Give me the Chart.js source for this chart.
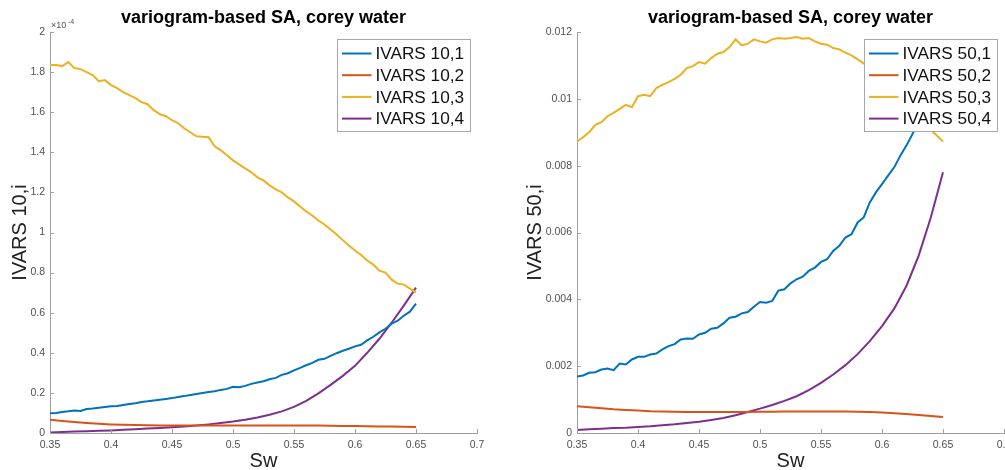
<!DOCTYPE html>
<html>
<head>
<meta charset="utf-8">
<script src="https://cdn.jsdelivr.net/npm/chart.js@4.4.0/dist/chart.umd.min.js"></script>
<style>
  html, body { margin: 0; padding: 0; background: #fff; overflow: hidden; width: 1005px; height: 470px; }
  .panel { position: absolute; top: 0; }
  #left { left: 0; }
  #right { left: 500px; }
</style>
</head>
<body>
<div class="panel" id="left"><canvas id="chart10" width="500" height="470"></canvas></div>
<div class="panel" id="right"><canvas id="chart50" width="530" height="470"></canvas></div>
<script>
// Sw values (fine grid for the noisy curves, coarse one for the smooth curves)
const swFine = [0.35, 0.355, 0.36, 0.365, 0.37, 0.375, 0.38, 0.385, 0.39, 0.395,
    0.4, 0.405, 0.41, 0.415, 0.42, 0.425, 0.43, 0.435, 0.44, 0.445,
    0.45, 0.455, 0.46, 0.465, 0.47, 0.475, 0.48, 0.485, 0.49, 0.495,
    0.5, 0.505, 0.51, 0.515, 0.52, 0.525, 0.53, 0.535, 0.54, 0.545,
    0.55, 0.555, 0.56, 0.565, 0.57, 0.575, 0.58, 0.585, 0.59, 0.595,
    0.6, 0.605, 0.61, 0.615, 0.62, 0.625, 0.63, 0.635, 0.64, 0.645, 0.65]
const swCoarse = [0.35, 0.36, 0.37, 0.38, 0.39, 0.4, 0.41, 0.42, 0.43, 0.44,
    0.45, 0.46, 0.47, 0.48, 0.49, 0.5, 0.51, 0.52, 0.53, 0.54,
    0.55, 0.56, 0.57, 0.58, 0.59, 0.6, 0.61, 0.62, 0.63, 0.64, 0.65]

// IVARS 10 (in units of 1e-4)
const ivars10_1 = [0.098, 0.100, 0.105, 0.108, 0.112, 0.110, 0.120, 0.122, 0.126, 0.130,
    0.133, 0.135, 0.140, 0.145, 0.148, 0.155, 0.158, 0.162, 0.166, 0.170,
    0.174, 0.180, 0.184, 0.190, 0.195, 0.200, 0.205, 0.208, 0.215, 0.220,
    0.230, 0.228, 0.235, 0.245, 0.252, 0.258, 0.268, 0.275, 0.290, 0.298,
    0.312, 0.325, 0.338, 0.350, 0.365, 0.370, 0.385, 0.398, 0.410, 0.420,
    0.432, 0.440, 0.462, 0.480, 0.502, 0.520, 0.545, 0.560, 0.585, 0.605, 0.645]
const ivars10_2 = [0.066, 0.060, 0.055, 0.050, 0.046, 0.043, 0.041, 0.040, 0.039, 0.038,
    0.038, 0.037, 0.037, 0.037, 0.037, 0.037, 0.037, 0.037, 0.037, 0.037,
    0.037, 0.037, 0.037, 0.036, 0.035, 0.035, 0.034, 0.033, 0.032, 0.031, 0.030]
const ivars10_3 = [1.835, 1.835, 1.830, 1.850, 1.820, 1.815, 1.800, 1.785, 1.755, 1.760,
    1.735, 1.720, 1.700, 1.685, 1.670, 1.650, 1.640, 1.610, 1.590, 1.580,
    1.560, 1.545, 1.520, 1.500, 1.480, 1.478, 1.475, 1.430, 1.410, 1.385,
    1.360, 1.340, 1.320, 1.300, 1.275, 1.260, 1.235, 1.215, 1.200, 1.175,
    1.155, 1.130, 1.105, 1.085, 1.060, 1.040, 1.015, 0.990, 0.962, 0.935,
    0.910, 0.888, 0.860, 0.840, 0.810, 0.800, 0.765, 0.745, 0.740, 0.720, 0.700]
const ivars10_4 = [0.003, 0.005, 0.007, 0.009, 0.011, 0.013, 0.016, 0.019, 0.022, 0.025,
    0.029, 0.033, 0.037, 0.043, 0.050, 0.057, 0.066, 0.077, 0.091, 0.108,
    0.130, 0.160, 0.198, 0.240, 0.285, 0.335, 0.400, 0.470, 0.550, 0.635, 0.725]

// IVARS 50
const ivars50_1 = [0.00169, 0.00172, 0.00180, 0.00182, 0.00190, 0.00193, 0.00188, 0.00208, 0.00205, 0.00220,
    0.00228, 0.00228, 0.00235, 0.00238, 0.00250, 0.00260, 0.00266, 0.00280, 0.00283, 0.00282,
    0.00295, 0.00300, 0.00312, 0.00315, 0.00328, 0.00345, 0.00348, 0.00358, 0.00362, 0.00378,
    0.00392, 0.00390, 0.00395, 0.00426, 0.00430, 0.00448, 0.00460, 0.00468, 0.00485, 0.00495,
    0.00512, 0.00520, 0.00545, 0.00560, 0.00585, 0.00595, 0.00630, 0.00645, 0.00690, 0.00720,
    0.00745, 0.00770, 0.00795, 0.00830, 0.00860, 0.00895, 0.00930, 0.00970, 0.01010, 0.01055, 0.01100]
const ivars50_2 = [0.00080, 0.00077, 0.00074, 0.00071, 0.00069, 0.00067, 0.00065, 0.00064, 0.000635, 0.00063,
    0.000625, 0.000625, 0.00063, 0.00063, 0.00063, 0.000635, 0.000635, 0.00064, 0.00064, 0.000645,
    0.000645, 0.000645, 0.00064, 0.000635, 0.000625, 0.00061, 0.00059, 0.000565, 0.00054, 0.00051, 0.00048]
const ivars50_3 = [0.00872, 0.00885, 0.00900, 0.00922, 0.00930, 0.00948, 0.00958, 0.00970, 0.00982, 0.00975,
    0.01008, 0.01012, 0.01008, 0.01032, 0.01042, 0.01050, 0.01060, 0.01072, 0.01092, 0.01098,
    0.01110, 0.01105, 0.01122, 0.01135, 0.01140, 0.01155, 0.01178, 0.01160, 0.01165, 0.01178,
    0.01172, 0.01168, 0.01178, 0.01182, 0.01180, 0.01182, 0.01185, 0.01180, 0.01182, 0.01172,
    0.01165, 0.01162, 0.01152, 0.01148, 0.01138, 0.01130, 0.01118, 0.01106, 0.01090, 0.01072,
    0.01055, 0.01038, 0.01020, 0.01002, 0.00985, 0.00966, 0.00948, 0.00925, 0.00907, 0.00890, 0.00872]
const ivars50_4 = [0.00009, 0.00011, 0.00013, 0.00015, 0.00016, 0.00018, 0.00020, 0.00023, 0.00026, 0.00030,
    0.00034, 0.00039, 0.00045, 0.00053, 0.00063, 0.00073, 0.00084, 0.00096, 0.00110, 0.00128,
    0.00150, 0.00175, 0.00203, 0.00236, 0.00275, 0.00320, 0.00372, 0.00440, 0.00530, 0.00645, 0.00780]

// tick labels
const xTicks = [0.35, 0.4, 0.45, 0.5, 0.55, 0.6, 0.65, 0.7]
const yTicks10 = [0, 0.2, 0.4, 0.6, 0.8, 1, 1.2, 1.4, 1.6, 1.8, 2]
const yTicks50 = [0, 0.002, 0.004, 0.006, 0.008, 0.01, 0.012]

const cores = ['#0072BD', '#D95319', '#EDB120', '#7E2F8E']
const fonte = '"Liberation Sans", Arial, Helvetica, sans-serif'
const corEixo = '#a0a0a0'
const corTexto = '#505050'

const pontos = (xs, ys) => xs.map((x, i) => ({ x: x, y: ys[i] }))

// legenda dentro do grafico, com fundo branco
const legendaCaixa = {
    id: 'legendaCaixa',
    afterDatasetsDraw(chart) {
        const { ctx, chartArea } = chart
        const w = 133, h = 92, linha = 21.7
        const x0 = Math.round(chartArea.right - 7 - w) + 0.5
        const y0 = Math.round(chartArea.top + 7) + 0.5
        ctx.save()
        ctx.fillStyle = '#fff'
        ctx.fillRect(x0, y0, w, h)
        ctx.strokeStyle = '#a8a8a8'
        ctx.lineWidth = 1
        ctx.strokeRect(x0, y0, w, h)
        ctx.font = '17.2px ' + fonte
        ctx.textBaseline = 'middle'
        chart.data.datasets.forEach((ds, i) => {
            const y = y0 + 14 + i * linha
            ctx.strokeStyle = ds.borderColor
            ctx.lineWidth = 2
            ctx.beginPath()
            ctx.moveTo(x0 + 4.5, y)
            ctx.lineTo(x0 + 34, y)
            ctx.stroke()
            ctx.fillStyle = '#111'
            ctx.fillText(ds.label, x0 + 38, y + 1)
        })
        ctx.restore()
    }
}

// ticks para dentro, estilo matlab
const ticksDentro = {
    id: 'ticksDentro',
    afterDraw(chart) {
        const { ctx, chartArea, scales } = chart
        ctx.save()
        ctx.strokeStyle = corEixo
        ctx.lineWidth = 1
        ctx.beginPath()
        scales.x.ticks.forEach(t => {
            const px = Math.round(scales.x.getPixelForValue(t.value)) + 0.5
            ctx.moveTo(px, chartArea.bottom)
            ctx.lineTo(px, chartArea.bottom - 4)
        })
        scales.y.ticks.forEach(t => {
            const py = Math.round(scales.y.getPixelForValue(t.value)) + 0.5
            ctx.moveTo(chartArea.left, py)
            ctx.lineTo(chartArea.left + 4, py)
        })
        ctx.stroke()
        ctx.restore()
    }
}

// "x10^-4" acima do eixo y
const expoente = {
    id: 'expoente',
    afterDraw(chart, args, opts) {
        if (!opts.texto) return
        const { ctx, chartArea } = chart
        ctx.save()
        ctx.fillStyle = corTexto
        ctx.textBaseline = 'alphabetic'
        ctx.font = '9px ' + fonte
        ctx.fillText('\u00d710', chartArea.left + 1, chartArea.top - 4)
        ctx.font = '7px ' + fonte
        ctx.fillText(opts.texto, chartArea.left + 18, chartArea.top - 8)
        ctx.restore()
    }
}

function criarGrafico(canvasId, datasets, yTicks, yMax, yTitulo, tituloPad, padDireita, expo) {
    return new Chart(document.getElementById(canvasId), {
        type: 'line',
        data: { datasets: datasets },
        plugins: [legendaCaixa, ticksDentro, expoente],
        options: {
            responsive: false,
            animation: false,
            events: [],
            layout: { padding: { left: 0, right: padDireita, top: 0, bottom: 0 } },
            elements: { point: { radius: 0 }, line: { borderWidth: 2, tension: 0 } },
            plugins: {
                legend: { display: false },
                tooltip: { enabled: false },
                expoente: { texto: expo },
                title: {
                    display: true,
                    text: 'variogram-based SA, corey water',
                    fullSize: false,
                    color: '#000',
                    font: { family: fonte, size: 18, weight: 'bold', lineHeight: 1.2 },
                    padding: { top: 7, bottom: 3.4 }
                }
            },
            scales: {
                x: {
                    type: 'linear',
                    min: 0.35,
                    max: 0.7,
                    afterBuildTicks: s => { s.ticks = xTicks.map(v => ({ value: v })) },
                    afterFit: s => { s.height = 37 },
                    grid: { display: true, drawOnChartArea: false, drawTicks: false },
                    border: { display: true, color: corEixo, width: 1 },
                    ticks: {
                        padding: 6,
                        color: corTexto,
                        font: { family: fonte, size: 10.5 },
                        maxRotation: 0,
                        callback: v => String(v)
                    },
                    title: {
                        display: true,
                        text: 'Sw',
                        color: '#222',
                        font: { family: fonte, size: 20, lineHeight: 1 },
                        padding: { top: 0, bottom: -1 }
                    }
                },
                y: {
                    min: 0,
                    max: yMax,
                    afterBuildTicks: s => { s.ticks = yTicks.map(v => ({ value: v })) },
                    afterFit: s => { s.width = tituloPad.largura },
                    grid: { display: true, drawOnChartArea: false, drawTicks: false },
                    border: { display: true, color: corEixo, width: 1 },
                    ticks: {
                        padding: 5,
                        color: corTexto,
                        font: { family: fonte, size: 10.5 },
                        callback: v => String(v)
                    },
                    title: {
                        display: true,
                        text: yTitulo,
                        color: '#222',
                        font: { family: fonte, size: 20, lineHeight: 1.2 },
                        padding: { top: tituloPad.top, bottom: 0 }
                    }
                }
            }
        }
    })
}

const datasets10 = [
    { label: 'IVARS 10,1', data: pontos(swFine, ivars10_1), borderColor: cores[0] },
    { label: 'IVARS 10,2', data: pontos(swCoarse, ivars10_2), borderColor: cores[1] },
    { label: 'IVARS 10,3', data: pontos(swFine, ivars10_3), borderColor: cores[2] },
    { label: 'IVARS 10,4', data: pontos(swCoarse, ivars10_4), borderColor: cores[3] }
]

const datasets50 = [
    { label: 'IVARS 50,1', data: pontos(swFine, ivars50_1), borderColor: cores[0] },
    { label: 'IVARS 50,2', data: pontos(swCoarse, ivars50_2), borderColor: cores[1] },
    { label: 'IVARS 50,3', data: pontos(swFine, ivars50_3), borderColor: cores[2] },
    { label: 'IVARS 50,4', data: pontos(swCoarse, ivars50_4), borderColor: cores[3] }
]

criarGrafico('chart10', datasets10, yTicks10, 2, 'IVARS 10,i', { largura: 50, top: 8 }, 23, '-4')
criarGrafico('chart50', datasets50, yTicks50, 0.012, 'IVARS 50,i', { largura: 77, top: 23 }, 26, '')
</script>
</body>
</html>
